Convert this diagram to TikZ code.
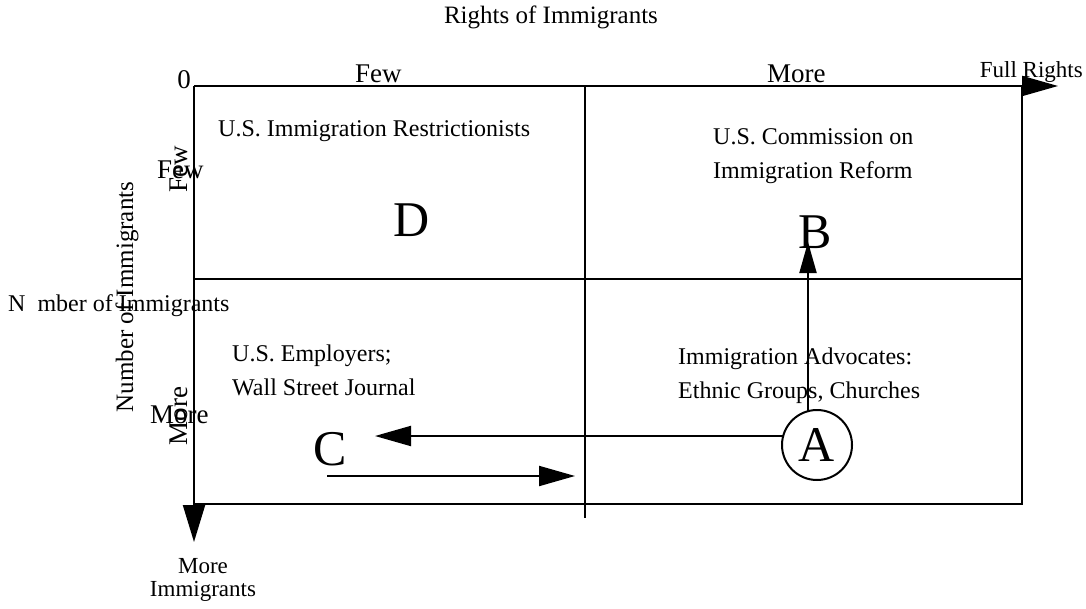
\documentclass[tikz,border=0pt]{standalone}
\usepackage{fontspec}
\setmainfont{Liberation Serif}
\usepackage{xcolor}
\usetikzlibrary{calc,arrows.meta}
\tikzset{
  base/.style={draw=black, line width=2pt},
  arr/.style={base, -{Triangle[length=36pt,width=20pt]}},
  lab/.style={inner sep=0pt, font=\fontsize{24}{34}\selectfont, align=left},
  labs/.style={inner sep=0pt, font=\fontsize{23}{23}\selectfont},
  labb/.style={inner sep=0pt, font=\fontsize{27}{27}\selectfont},
  letter/.style={inner sep=0pt, font=\fontsize{50}{50}\selectfont}
}

\begin{document}
\begin{tikzpicture}[x=1pt,y=-1pt]
  \useasboundingbox[fill=white] (0,0) rectangle (1086,608);
  % frame of the chart
  \coordinate (TL) at (194,86);
  \coordinate (TR) at (1022,86);
  \coordinate (BL) at (194,504);
  \coordinate (BR) at (1022,504);
  \coordinate (FR) at (1058,86);
  \coordinate (DN) at (194,542);
  \coordinate (ML) at (194,279);
  \coordinate (MR) at (1022,279);
  \coordinate (VT) at (585,86);
  \coordinate (VB) at (585,518);
  \draw[base] (TR) -- (BR) -- (BL);
  \draw[base] (ML) -- (MR);
  \draw[base] (VT) -- (VB);
  \draw[arr] (TL) -- (FR);
  \draw[arr,-{Triangle[length=37pt,width=22pt]}] (TL) -- (DN);
  % axis texts
  \node[labs,anchor=base,font=\fontsize{25}{25}\selectfont] (title) at (551,23) {Rights of Immigrants};
  \node[labb,anchor=base east] (zero) at (191,88) {0};
  \node[labb,anchor=base west] (fewtop) at (355,82) {Few};
  \node[labb,anchor=base west] (moretop) at (767,82) {More};
  \node[labs,anchor=base east] (fullr) at (1083,77) {Full Rights};
  \node[labs,anchor=base,align=center] (moreimm) at (203,596) {More\\[0pt]Immigrants};
  \node[lab,anchor=base west] (numh) at (8,311) {N\phantom{u}mber of Immigrants};
  \node[lab,rotate=90,font=\fontsize{25}{25}\selectfont] (numv) at (127,297) {Number of Immigrants};
  \node[labb,anchor=base west] (fewh) at (157,178) {Few};
  \node[labb,rotate=90] (fewv) at (179,169) {Few};
  \node[labb,anchor=base west] (moreh) at (150,423) {More};
  \node[labb,rotate=90] (morev) at (179,416) {More};
  % quadrant texts
  \node[lab,anchor=base west] (restr) at (218,136) {U.S. Immigration Restrictionists};
  \node[lab,anchor=base west] (comm) at (713,178) {U.S. Commission on\\Immigration Reform};
  \node[lab,anchor=base west] (empl) at (232,395) {U.S. Employers;\\Wall Street Journal};
  \node[lab,anchor=base west] (advo) at (678,398) {Immigration Advocates:\\Ethnic Groups, Churches};
  % positions
  \node[letter,anchor=base] (D) at (412,236) {D};
  \node[letter,anchor=base] (B) at (815,248) {B};
  \node[letter,anchor=base] (C) at (330,465) {C};
  \coordinate (start) at (808,436);
  \coordinate (btip) at (808,242);
  \coordinate (ctip) at (375,436);
  \coordinate (lowtail) at (327,476);
  \coordinate (lowtip) at (575,476);
  \draw[arr,-{Triangle[length=31pt,width=17pt]}] (start) -- (btip);
  \draw[arr] (start) -- (ctip);
  \draw[arr] (lowtail) -- (lowtip);
  \node[letter,circle,draw=black,line width=2pt,fill=white,minimum size=70pt] (A) at (817,445) {A};
\end{tikzpicture}
\end{document}
